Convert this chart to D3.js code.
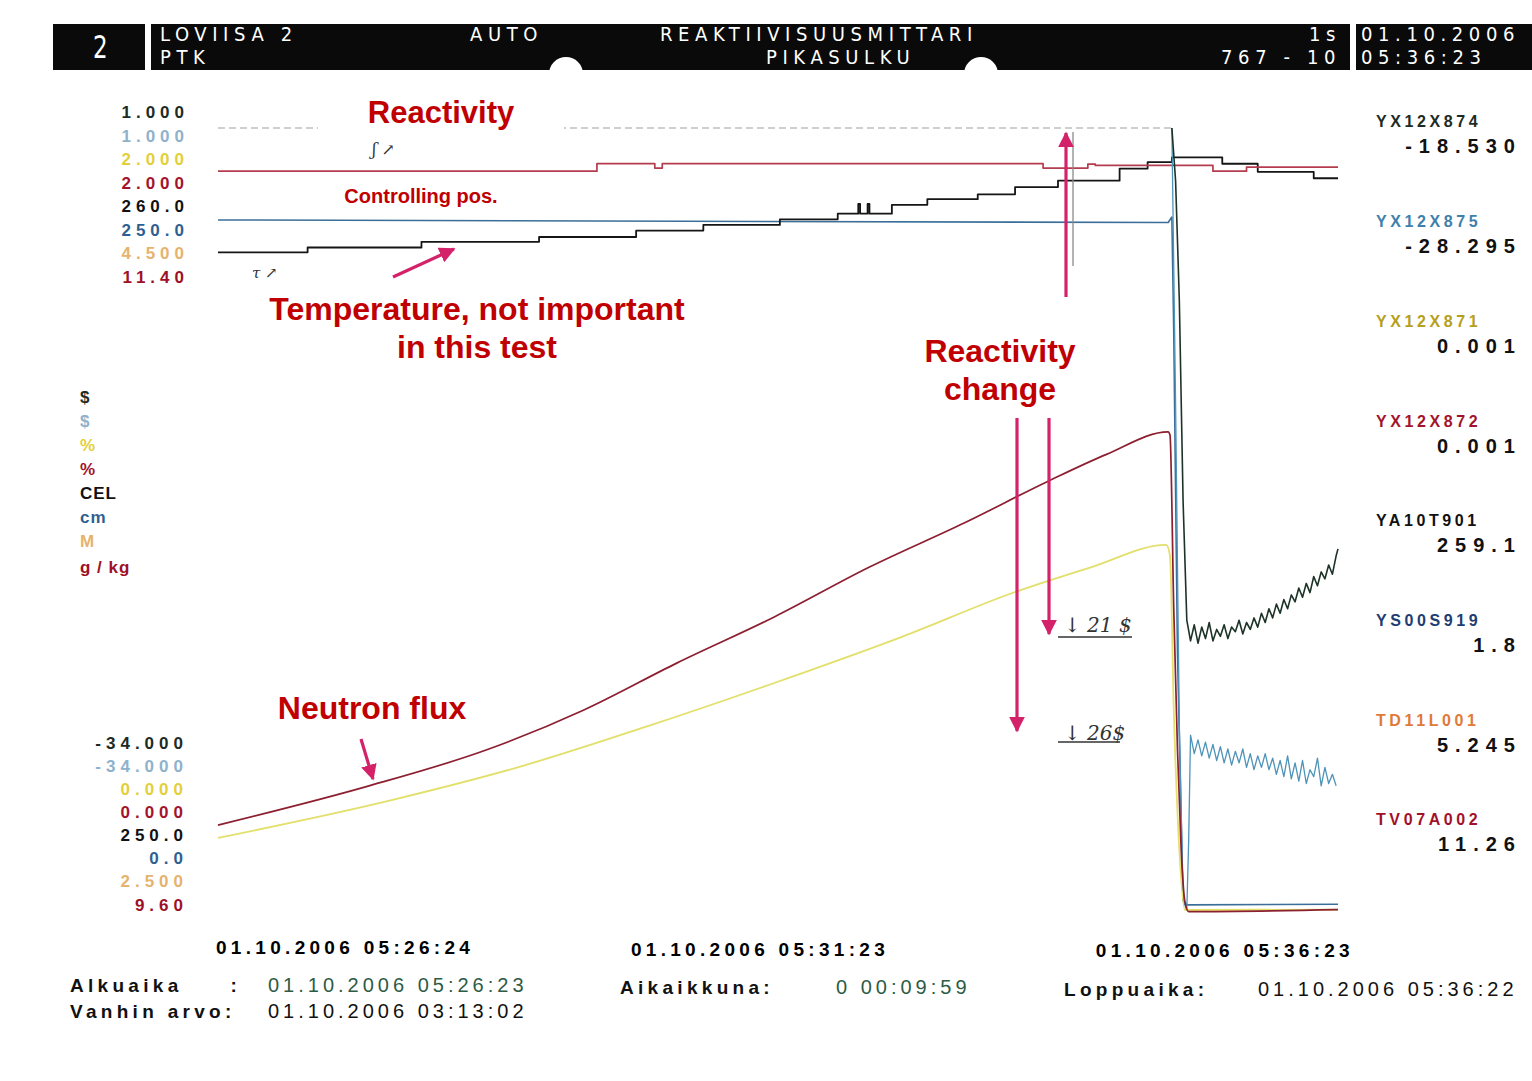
<!DOCTYPE html>
<html>
<head>
<meta charset="utf-8">
<script src="https://cdn.jsdelivr.net/npm/d3@7/dist/d3.min.js"></script>
<style>
body { margin: 0; background: #fff; }
svg text { font-family: "Liberation Sans", Arial, sans-serif; }
.hdr { fill: #fff; font-family: "Liberation Sans Narrow", "DejaVu Sans Condensed", sans-serif; font-size: 20px; letter-spacing: 5.6px; }
.scale { font-weight: bold; font-size: 17px; letter-spacing: 5px; }
.unit { font-weight: bold; font-size: 17px; letter-spacing: 1px; }
.tag { font-weight: bold; font-size: 16px; letter-spacing: 3.6px; }
.cur { font-weight: bold; font-size: 20px; letter-spacing: 7px; }
.foot { font-family: "Liberation Sans Narrow", "Liberation Sans", sans-serif; font-weight: bold; font-size: 19px; letter-spacing: 4.3px; }
.footv { font-family: "Liberation Sans Narrow", "Liberation Sans", sans-serif; font-size: 20px; letter-spacing: 4px; }
.note { fill: #c00000; font-weight: bold; font-size: 32px; text-anchor: middle; }
.hand { fill: #333; font-family: "DejaVu Serif", serif; font-style: italic; font-size: 20px; }
</style>
</head>
<body>
<svg id="chart" width="1532" height="1081"></svg>
<script>
// ---- channel meta ----
var tags     = ["YX12X874", "YX12X875", "YX12X871", "YX12X872", "YA10T901", "YS00S919", "TD11L001", "TV07A002"];
var currents = ["-18.530", "-28.295", "0.001", "0.001", "259.1", "1.8", "5.245", "11.26"];
var units    = ["$", "$", "%", "%", "CEL", "cm", "M", "g / kg"];
var topLabels    = ["1.000", "1.000", "2.000", "2.000", "260.0", "250.0", "4.500", "11.40"];
var bottomLabels = ["-34.000", "-34.000", "0.000", "0.000", "250.0", "0.0", "2.500", "9.60"];
var scaleMax = [1, 1, 2, 2, 260, 250, 4.5, 11.4];
var scaleMin = [-34, -34, 0, 0, 250, 0, 2.5, 9.6];
var colors   = ["#1d2b24", "#8fb2cc", "#e3cf3a", "#a3142c", "#111111", "#2f5f90", "#e6b36e", "#9e1028"];
var tagColors = ["#1d2b24", "#3f7fab", "#b5a01e", "#a3142c", "#111111", "#1e3d72", "#e07a38", "#a3102a"];

// time axis: seconds after 01.10.2006 05:26:23
var timeLabels = ["01.10.2006 05:26:24", "01.10.2006 05:31:23", "01.10.2006 05:36:23"];
var timeTicks  = [0, 300, 600];

// series: [seconds, value]
var reactivity874 = [[0, 0], [511, 0], [513, -2.3], [515, -7.5], [517, -16.2], [519, -21.4],
  [521, -22.3], [523, -21.6], [525, -22.4], [527, -21.7], [529, -22.2], [531, -21.5], [533, -22.3],
  [535, -21.8], [537, -22.1], [539, -21.6], [541, -22.2], [543, -21.7], [545, -21.9], [547, -21.4],
  [549, -22.0], [551, -21.5], [553, -21.8], [555, -21.3], [557, -21.7], [559, -21.1], [561, -21.5],
  [563, -20.9], [565, -21.3], [567, -20.7], [569, -21.1], [571, -20.5], [573, -20.9], [575, -20.3],
  [577, -20.6], [579, -20.0], [581, -20.4], [583, -19.8], [585, -20.2], [587, -19.5], [589, -19.9],
  [591, -19.3], [593, -19.6], [595, -19.0], [597, -19.4], [599, -18.6], [600, -18.3]];
var reactivity875 = [[0, 0], [511, 0], [513, -12], [515, -26], [517, -33.6], [519, -34.0],
  [520, -31.0], [521, -26.4], [523, -27.2], [525, -26.6], [527, -27.3], [529, -26.7], [531, -27.4],
  [533, -26.8], [535, -27.5], [537, -26.9], [539, -27.6], [541, -27.0], [543, -27.7], [545, -27.1],
  [547, -27.6], [549, -27.0], [551, -27.8], [553, -27.2], [555, -27.9], [557, -27.3], [559, -27.8],
  [561, -27.2], [563, -27.9], [565, -27.4], [567, -28.1], [569, -27.5], [571, -28.2], [573, -27.3],
  [575, -28.3], [577, -27.6], [579, -28.4], [581, -27.5], [583, -28.5], [585, -27.9], [587, -28.2],
  [589, -27.4], [591, -28.6], [593, -27.8], [595, -28.5], [597, -28.1], [599, -28.6]];
var flux871 = [[0, 0.179], [93, 0.273], [161, 0.355], [229, 0.455], [298, 0.564], [366, 0.678],
  [427, 0.790], [468, 0.852], [508, 0.907], [510, 0.88], [512, 0.50], [515, 0.15], [518, 0.0], [600, 0.001]];
var flux872 = [[0, 0.211], [79, 0.306], [144, 0.398], [196, 0.497], [246, 0.614], [298, 0.728],
  [349, 0.852], [400, 0.962], [445, 1.066], [476, 1.132], [509, 1.188], [510, 1.18], [512, 0.75],
  [514, 0.40], [516, 0.15], [518, 0.02], [520, -0.004], [600, 0.001]];
var temp901 = [[0, 258.17], [48, 258.23], [109, 258.30], [172, 258.36], [224, 258.44], [260, 258.51],
  [301, 258.58], [332, 258.65], [343, 258.77], [344, 258.65], [348, 258.77], [349, 258.65],
  [361, 258.76], [380, 258.83], [407, 258.89], [427, 258.98], [450, 259.06], [483, 259.21],
  [498, 259.29], [511, 259.35], [538, 259.27], [557, 259.17], [587, 259.09], [600, 259.09]];
var rod919 = [[0, 214.3], [250, 213.9], [509, 213.5], [511, 215.2], [512, 180], [514, 80],
  [517, 3], [519, 1.6], [600, 1.8]];
var boron002 = [[0, 11.252], [203, 11.269], [234, 11.259], [238, 11.269], [442, 11.259],
  [466, 11.268], [470, 11.265], [533, 11.252], [551, 11.261], [600, 11.261]];

var svg = d3.select("#chart"),
    plot = {left: 218, right: 1338, top: 105, bottom: 910};

svg.append("rect").attr("width", 1532).attr("height", 1081).attr("fill", "#fff");

var x = d3.scaleLinear().domain([0, 600]).range([plot.left, plot.right]);
var y = scaleMax.map(function(mx, i) {
    return d3.scaleLinear().domain([scaleMin[i], mx]).range([plot.bottom, plot.top]);
});

function lineFor(i, curve) {
    return d3.line()
        .x(function(d) { return x(d[0]); })
        .y(function(d) { return y[i](d[1]); })
        .curve(curve || d3.curveLinear);
}

/********** header bar **********/
var hdr = svg.append("g");
hdr.append("rect").attr("x", 53).attr("y", 24).attr("width", 92).attr("height", 46).attr("fill", "#0a0a0a");
hdr.append("rect").attr("x", 151).attr("y", 24).attr("width", 1199).attr("height", 46).attr("fill", "#0a0a0a");
hdr.append("rect").attr("x", 1356).attr("y", 24).attr("width", 176).attr("height", 46).attr("fill", "#0a0a0a");
hdr.selectAll("circle.bump").data([566, 981]).enter().append("circle")
    .attr("cx", function(d) { return d; }).attr("cy", 74).attr("r", 17).attr("fill", "#fff");
hdr.append("text").attr("class", "hdr").attr("x", 93).attr("y", 58)
    .style("font-size", "32px").style("letter-spacing", "0px")
    .attr("transform", "translate(93,0) scale(0.8,1) translate(-93,0)").text("2");
var hdrTexts = [
    [160, 41, "start", "LOVIISA 2"], [160, 64, "start", "PTK"],
    [470, 41, "start", "AUTO"],
    [660, 41, "start", "REAKTIIVISUUSMITTARI"], [766, 64, "start", "PIKASULKU"],
    [1341, 41, "end", "1s"], [1341, 64, "end", "767 - 10"],
    [1361, 41, "start", "01.10.2006"], [1361, 64, "start", "05:36:23"]
];
hdr.selectAll("text.h").data(hdrTexts).enter().append("text")
    .attr("class", "hdr h")
    .attr("x", function(d) { return d[0]; }).attr("y", function(d) { return d[1]; })
    .attr("text-anchor", function(d) { return d[2]; })
    .text(function(d) { return d[3]; });

/********** left scale labels **********/
var leftTopY = [112, 136, 159, 183, 206, 230, 253, 277];
var unitY    = [397, 421, 445, 469, 493, 517, 541, 567];
var leftBotY = [743, 766, 789, 812, 835, 858, 881, 905];

svg.append("g").selectAll("text").data(topLabels).enter().append("text")
    .attr("class", "scale").attr("text-anchor", "end")
    .attr("x", 189).attr("y", function(d, i) { return leftTopY[i] + 6; })
    .attr("fill", function(d, i) { return colors[i]; })
    .text(function(d) { return d; });

svg.append("g").selectAll("text").data(units).enter().append("text")
    .attr("class", "unit")
    .attr("x", 80).attr("y", function(d, i) { return unitY[i] + 6; })
    .attr("fill", function(d, i) { return colors[i]; })
    .style("white-space", "pre")
    .text(function(d) { return d; });

svg.append("g").selectAll("text").data(bottomLabels).enter().append("text")
    .attr("class", "scale").attr("text-anchor", "end")
    .attr("x", 188).attr("y", function(d, i) { return leftBotY[i] + 6; })
    .attr("fill", function(d, i) { return colors[i]; })
    .text(function(d) { return d; });

/********** right tag column **********/
var tagY = [121, 221, 321, 421, 520, 620, 720, 819];
var right = svg.append("g");
right.selectAll("text.t").data(tags).enter().append("text")
    .attr("class", "tag t").attr("x", 1376).attr("y", function(d, i) { return tagY[i] + 6; })
    .attr("fill", function(d, i) { return tagColors[i]; })
    .text(function(d) { return d; });
right.selectAll("text.c").data(currents).enter().append("text")
    .attr("class", "cur c").attr("text-anchor", "end")
    .attr("x", 1522).attr("y", function(d, i) { return tagY[i] + 32; })
    .attr("fill", "#111")
    .text(function(d) { return d; });

/********** traces **********/
var traces = svg.append("g").attr("fill", "none").attr("stroke-linejoin", "round");

// rod position and temperature
traces.append("path").datum(rod919).attr("d", lineFor(5))
    .attr("stroke", "#3b6f99").attr("stroke-width", 1.6);
traces.append("path").datum(temp901).attr("d", lineFor(4, d3.curveStepAfter))
    .attr("stroke", "#151515").attr("stroke-width", 1.8);
traces.append("path").datum(boron002).attr("d", lineFor(7, d3.curveStepAfter))
    .attr("stroke", "#b53c4e").attr("stroke-width", 1.7);

// reactivity before drop is faint on the print
traces.append("path").datum(reactivity874.filter(function(d) { return d[0] <= 511; }))
    .attr("d", lineFor(0)).attr("stroke", "#9aa19e").attr("stroke-width", 1.2).attr("stroke-dasharray", "7,4");
traces.append("path").datum(reactivity875.filter(function(d) { return d[0] >= 511; }))
    .attr("d", lineFor(1)).attr("stroke", "#4e93b8").attr("stroke-width", 1.3);
traces.append("path").datum(reactivity874.filter(function(d) { return d[0] >= 511; }))
    .attr("d", lineFor(0)).attr("stroke", "#1d3328").attr("stroke-width", 1.6);

// neutron flux
traces.append("path").datum(flux871).attr("d", lineFor(2, d3.curveMonotoneX))
    .attr("stroke", "#e2df6a").attr("stroke-width", 1.8);
traces.append("path").datum(flux872).attr("d", lineFor(3, d3.curveMonotoneX))
    .attr("stroke", "#8c1f30").attr("stroke-width", 1.7);

/********** bottom time labels **********/
var foot = svg.append("g");
foot.selectAll("text.tm").data(timeLabels).enter().append("text")
    .attr("class", "foot tm")
    .attr("x", function(d, i) { return x(timeTicks[i]); })
    .attr("y", function(d, i) { return i == 2 ? 957 : (i == 1 ? 956 : 954); })
    .attr("text-anchor", function(d, i) { return ["start", "middle", "end"][i]; })
    .attr("dx", function(d, i) { return [-2, -18, 16][i]; })
    .text(function(d) { return d; });

var footRows = [
    [70, 992, "foot", "#111", "Alkuaika     :"], [268, 992, "footv", "#2d5b45", "01.10.2006 05:26:23"],
    [70, 1018, "foot", "#111", "Vanhin arvo:"], [268, 1018, "footv", "#111", "01.10.2006 03:13:02"],
    [620, 994, "foot", "#111", "Aikaikkuna:"], [836, 994, "footv", "#2d5b45", "0 00:09:59"],
    [1064, 996, "foot", "#111", "Loppuaika:"], [1258, 996, "footv", "#111", "01.10.2006 05:36:22"]
];
foot.selectAll("text.r").data(footRows).enter().append("text")
    .attr("class", function(d) { return d[2] + " r"; })
    .attr("x", function(d) { return d[0]; }).attr("y", function(d) { return d[1]; })
    .attr("fill", function(d) { return d[3]; })
    .style("white-space", "pre")
    .text(function(d) { return d[4]; });

/********** annotations **********/
var ann = svg.append("g");
ann.append("rect").attr("x", 318).attr("y", 92).attr("width", 246).attr("height", 40).attr("fill", "#fff");
ann.append("rect").attr("x", 284).attr("y", 174).attr("width", 274).attr("height", 38).attr("fill", "#fff");

// pencil marks
ann.append("line").attr("x1", 1073).attr("y1", 132).attr("x2", 1073).attr("y2", 266)
    .attr("stroke", "#8a8a8a").attr("stroke-width", 1.3);
ann.append("text").attr("class", "hand").attr("x", 372).attr("y", 155).style("font-size", "16px").text("\u0283 \u2197");
ann.append("text").attr("class", "hand").attr("x", 252).attr("y", 278).style("font-size", "15px").text("\u03c4 \u2197");
ann.append("text").attr("class", "hand").attr("x", 1064).attr("y", 632).text("\u2193 21 $");
ann.append("text").attr("class", "hand").attr("x", 1064).attr("y", 740).text("\u2193 26$");
ann.append("line").attr("x1", 1058).attr("y1", 637).attr("x2", 1132).attr("y2", 637).attr("stroke", "#333").attr("stroke-width", 1.3);
ann.append("line").attr("x1", 1058).attr("y1", 742).attr("x2", 1120).attr("y2", 742).attr("stroke", "#333").attr("stroke-width", 1.3);

var notes = [
    [441, 123, 31, "Reactivity"],
    [421, 203, 20, "Controlling pos."],
    [477, 320, 32, "Temperature, not important"],
    [477, 358, 32, "in this test"],
    [1000, 362, 32, "Reactivity"],
    [1000, 400, 32, "change"],
    [372, 719, 32, "Neutron flux"]
];
ann.selectAll("text.note").data(notes).enter().append("text")
    .attr("class", "note")
    .attr("x", function(d) { return d[0]; }).attr("y", function(d) { return d[1]; })
    .style("font-size", function(d) { return d[2] + "px"; })
    .text(function(d) { return d[3]; });

svg.append("defs").append("marker")
    .attr("id", "head").attr("viewBox", "0 0 10 10")
    .attr("refX", 9).attr("refY", 5)
    .attr("markerWidth", 5).attr("markerHeight", 5)
    .attr("markerUnits", "strokeWidth")
    .attr("orient", "auto")
    .append("path").attr("d", "M0,0 L10,5 L0,10 Z").attr("fill", "#d4226a");

var arrows = [
    [393, 277, 454, 249],
    [1066, 297, 1066, 133],
    [1049, 418, 1049, 634],
    [1017, 418, 1017, 731],
    [361, 739, 373, 779]
];
ann.selectAll("line.arr").data(arrows).enter().append("line")
    .attr("class", "arr")
    .attr("x1", function(d) { return d[0]; }).attr("y1", function(d) { return d[1]; })
    .attr("x2", function(d) { return d[2]; }).attr("y2", function(d) { return d[3]; })
    .attr("stroke", "#d4226a").attr("stroke-width", 3.2)
    .attr("marker-end", "url(#head)");
</script>
</body>
</html>
